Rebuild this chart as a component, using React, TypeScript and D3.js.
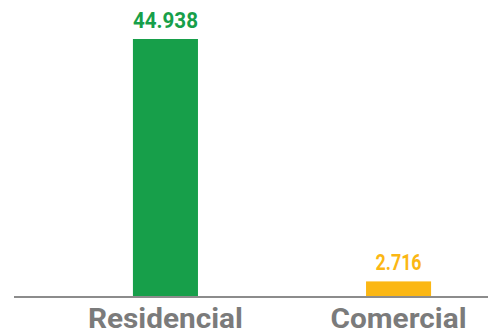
import React from "react";
import * as d3 from "d3";

const categories: string[] = ["Residencial", "Comercial"];
const values: number[] = [44938, 2716];
const valueLabels: string[] = ["44.938", "2.716"];
const colors: string[] = ["#179f4a", "#fbb714"];

const W = 488;
const H = 335;
const baseY = 297;

export default function App() {
  const x = d3
    .scaleBand<string>()
    .domain(categories)
    .range([63, 501])
    .paddingInner(0.721)
    .paddingOuter(0.3);
  const y = d3.scaleLinear().domain([0, 44938]).range([baseY, 39]);
  const bw = x.bandwidth();
  const valueWidths = [65, 46];
  const catWidths = [155, 136];

  return (
    <svg
      width={W}
      height={H}
      style={{ position: "absolute", left: 0, top: 0, display: "block" }}
      fontFamily="Roboto, 'Liberation Sans', sans-serif"
    >
      {categories.map((c, i) => {
        const x0 = x(c) as number;
        const cx = x0 + bw / 2;
        return (
          <g key={c}>
            <rect
              x={x0}
              y={y(values[i])}
              width={bw}
              height={baseY - y(values[i])}
              fill={colors[i]}
            />
            <text
              x={cx}
              y={y(values[i]) - 11}
              textAnchor="middle"
              fontWeight="bold"
              fontSize={22}
              fill={colors[i]}
              textLength={valueWidths[i]}
              lengthAdjust="spacingAndGlyphs"
            >
              {valueLabels[i]}
            </text>
            <text
              x={cx}
              y={328}
              textAnchor="middle"
              fontWeight="bold"
              fontSize={27}
              fill="#7b7b7b"
              textLength={catWidths[i]}
              lengthAdjust="spacingAndGlyphs"
            >
              {c}
            </text>
          </g>
        );
      })}
      <line x1={14} x2={488} y1={baseY} y2={baseY} stroke="#8c8c8c" strokeWidth={2} />
    </svg>
  );
}
